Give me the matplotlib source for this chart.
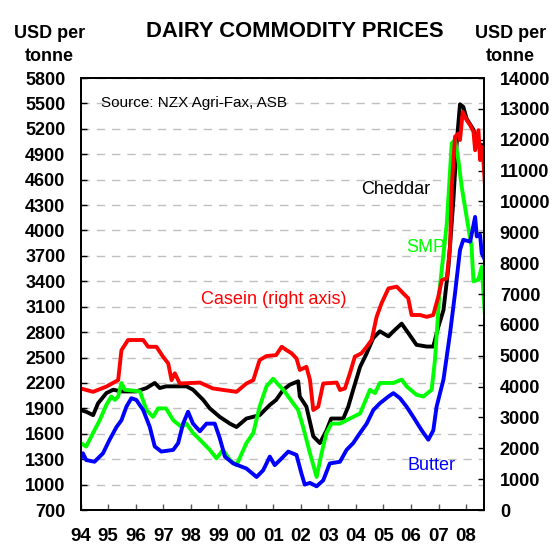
import matplotlib
matplotlib.use("Agg")
import matplotlib.pyplot as plt

plt.rcParams['font.family'] = ['Liberation Sans', 'DejaVu Sans']

# year ticks
years = list(range(1994, 2009))
year_labels = ['94', '95', '96', '97', '98', '99', '00', '01', '02', '03', '04', '05', '06', '07', '08']

# Casein (right axis), USD/t
casein_x = [1994.0, 1994.45, 1994.93, 1995.36, 1995.48, 1995.72, 1996.27, 1996.45, 1996.75, 1996.99,
            1997.18, 1997.3, 1997.42, 1997.6, 1998.33, 1998.8, 1999.66, 2000.02, 2000.27, 2000.5,
            2000.75, 2001.1, 2001.3, 2001.48, 2001.66, 2001.84, 2001.96, 2002.2, 2002.33, 2002.45,
            2002.63, 2002.81, 2003.3, 2003.42, 2003.6, 2003.78, 2003.96, 2004.2, 2004.39, 2004.57,
            2004.75, 2004.93, 2005.18, 2005.48, 2005.72, 2005.9, 2006.02, 2006.33, 2006.57, 2006.81,
            2006.99, 2007.12, 2007.3, 2007.42, 2007.48, 2007.6, 2007.72, 2007.78, 2007.88, 2008.02,
            2008.15, 2008.27, 2008.33, 2008.45, 2008.51, 2008.6, 2008.69]
casein = [3940, 3830, 4000, 4210, 5180, 5510, 5510, 5290, 5290, 4970,
          4750, 4210, 4430, 4100, 4130, 3940, 3830, 4100, 4210, 4860,
          4990, 5020, 5290, 5180, 5080, 4910, 4540, 4640, 4210, 3240,
          3350, 4100, 4130, 3890, 3940, 4430, 4970, 5080, 5290, 5510,
          6260, 6700, 7180, 7240, 7020, 6860, 6320, 6320, 6260, 6320,
          6910, 7450, 7510, 8530, 10480, 12100, 12200, 11990, 12900, 12640,
          12470, 12260, 11660, 12310, 11340, 11770, 10480]

# Cheddar (left axis)
cheddar_x = [1994.0, 1994.2, 1994.45, 1994.63, 1994.93, 1995.18, 1995.48, 1996.02, 1996.39, 1996.69,
             1996.87, 1997.1, 1997.84, 1998.08, 1998.45, 1998.69, 1999.05, 1999.42, 1999.66, 2000.02,
             2000.5, 2000.87, 2001.1, 2001.36, 2001.6, 2001.9, 2001.96, 2002.2, 2002.45, 2002.69,
             2002.93, 2003.1, 2003.54, 2003.72, 2003.9, 2004.15, 2004.39, 2004.63, 2004.87, 2005.18,
             2005.36, 2005.66, 2005.9, 2006.2, 2006.57, 2006.81, 2006.99, 2007.18, 2007.36, 2007.54,
             2007.66, 2007.78, 2007.9, 2008.02, 2008.27, 2008.45, 2008.57, 2008.69]
cheddar = [1880, 1860, 1820, 1960, 2080, 2120, 2100, 2100, 2140, 2200,
           2140, 2160, 2160, 2120, 2000, 1900, 1800, 1720, 1680, 1780,
           1820, 1940, 2000, 2120, 2180, 2220, 2040, 1920, 1570, 1490,
           1640, 1780, 1780, 1920, 2120, 2390, 2550, 2730, 2810, 2750,
           2810, 2900, 2790, 2650, 2630, 2630, 2860, 3060, 3570, 4360,
           5030, 5490, 5460, 5320, 5190, 5010, 5010, 4710]

# SMP (left axis)
smp_x = [1994.0, 1994.2, 1994.45, 1994.69, 1994.93, 1995.11, 1995.24, 1995.36, 1995.48, 1995.6,
         1996.15, 1996.39, 1996.63, 1996.81, 1997.1, 1997.36, 1997.66, 1997.84, 1998.08, 1998.33,
         1998.69, 1998.93, 1999.17, 1999.42, 1999.66, 2000.02, 2000.27, 2000.5, 2000.75, 2000.99,
         2001.18, 2001.36, 2001.72, 2001.9, 2002.08, 2002.33, 2002.57, 2002.75, 2002.93, 2003.11,
         2003.42, 2003.78, 2004.15, 2004.51, 2004.69, 2004.87, 2005.36, 2005.66, 2005.84, 2006.2,
         2006.45, 2006.75, 2006.87, 2007.05, 2007.3, 2007.48, 2007.6, 2007.72, 2007.84, 2008.02,
         2008.2, 2008.27, 2008.45, 2008.57, 2008.69]
smp = [1490, 1450, 1610, 1760, 1940, 2040, 2000, 2040, 2200, 2120,
       2100, 1880, 1800, 1900, 1900, 1760, 1680, 1720, 1610, 1530,
       1410, 1310, 1410, 1290, 1230, 1490, 1610, 1920, 2160, 2250,
       2180, 2120, 1960, 1880, 1680, 1370, 1090, 1370, 1610, 1720,
       1720, 1780, 1840, 2120, 2080, 2200, 2200, 2240, 2160, 2060,
       2040, 2120, 2470, 3340, 4080, 5030, 5070, 4830, 4520, 4160,
       3810, 3400, 3420, 3570, 2980]

# Butter (left axis)
butter_x = [1994.0, 1994.08, 1994.2, 1994.5, 1994.81, 1995.05, 1995.3, 1995.48, 1995.66, 1995.84,
            1996.02, 1996.27, 1996.51, 1996.69, 1996.93, 1997.36, 1997.54, 1997.72, 1997.9, 1998.08,
            1998.33, 1998.57, 1998.87, 1999.05, 1999.24, 1999.54, 2000.02, 2000.39, 2000.63, 2000.87,
            2001.05, 2001.24, 2001.54, 2001.84, 2002.02, 2002.14, 2002.33, 2002.57, 2002.81, 2003.05,
            2003.42, 2003.66, 2003.9, 2004.15, 2004.39, 2004.63, 2004.87, 2005.18, 2005.36, 2005.6,
            2005.84, 2006.08, 2006.39, 2006.63, 2006.81, 2006.93, 2007.18, 2007.42, 2007.6, 2007.78,
            2007.9, 2008.15, 2008.33, 2008.39, 2008.51, 2008.57, 2008.69]
butter = [1310, 1370, 1290, 1270, 1370, 1530, 1680, 1760, 1920, 2020,
          2000, 1880, 1680, 1450, 1390, 1410, 1490, 1720, 1860, 1720,
          1630, 1720, 1720, 1550, 1330, 1250, 1190, 1090, 1170, 1330,
          1230, 1290, 1390, 1350, 1130, 1000, 1020, 980, 1050, 1250,
          1270, 1410, 1490, 1610, 1720, 1880, 1960, 2040, 2080, 2020,
          1920, 1800, 1640, 1530, 1640, 1920, 2240, 2790, 3260, 3770,
          3890, 3870, 4160, 3930, 3950, 3730, 3650]

fig = plt.figure(figsize=(5.59, 5.46), dpi=100)
ax = fig.add_axes([0.1444, 0.0659, 0.7223, 0.7912])
ax2 = ax.twinx()

ax.plot(cheddar_x, cheddar, color='black', lw=2.8, zorder=3)
ax.plot(smp_x, smp, color='#00ff00', lw=2.8, zorder=4)
ax.plot(butter_x, butter, color='#0000ff', lw=2.8, zorder=5)
ax2.plot(casein_x, casein, color='#ff0000', lw=2.8)

ax.set_xlim(1994, 2008.67)
ax.set_ylim(700, 5800)
ax2.set_ylim(0, 14000)

ax.set_yticks(range(700, 5801, 300))
ax2.set_yticks(range(0, 14001, 1000))
ax.set_xticks(years)
ax.set_xticklabels(year_labels)

ax.yaxis.grid(True, color='#c0c0c0', linestyle=(0, (6, 5)), lw=1)
ax.set_axisbelow(True)

ax.tick_params(axis='y', direction='in', length=4, width=1, pad=11, labelsize=13)
ax.tick_params(axis='x', direction='in', length=4, width=1, color='#555555', pad=13, labelsize=13.5)
ax2.tick_params(axis='y', direction='in', length=4, width=1, pad=11, labelsize=13)
for lab in ax.get_yticklabels() + ax.get_xticklabels() + ax2.get_yticklabels():
    lab.set_fontweight('bold')

for a in (ax, ax2):
    for s in a.spines.values():
        s.set_linewidth(1.3)

fig.text(0.527, 0.943, 'DAIRY COMMODITY PRICES', ha='center', va='center',
         fontsize=15.8, fontweight='bold')
fig.text(0.088, 0.918, 'USD per\ntonne', ha='center', va='center', fontsize=13,
         fontweight='bold', linespacing=1.45)
fig.text(0.913, 0.918, 'USD per\ntonne', ha='center', va='center', fontsize=13,
         fontweight='bold', linespacing=1.45)

ax.text(1994.73, 5510, 'Source: NZX Agri-Fax, ASB', ha='left', va='center', fontsize=11)
ax.text(2005.45, 4480, 'Cheddar', color='black', ha='center', va='center', fontsize=13)
ax.text(2006.53, 3800, 'SMP', color='#00ff00', ha='center', va='center', fontsize=13)
ax.text(2001.0, 3190, 'Casein (right axis)', color='#ff0000', ha='center', va='center', fontsize=13)
ax.text(2006.73, 1230, 'Butter', color='#0000ff', ha='center', va='center', fontsize=13)

fig.savefig('out.png', dpi=100)
